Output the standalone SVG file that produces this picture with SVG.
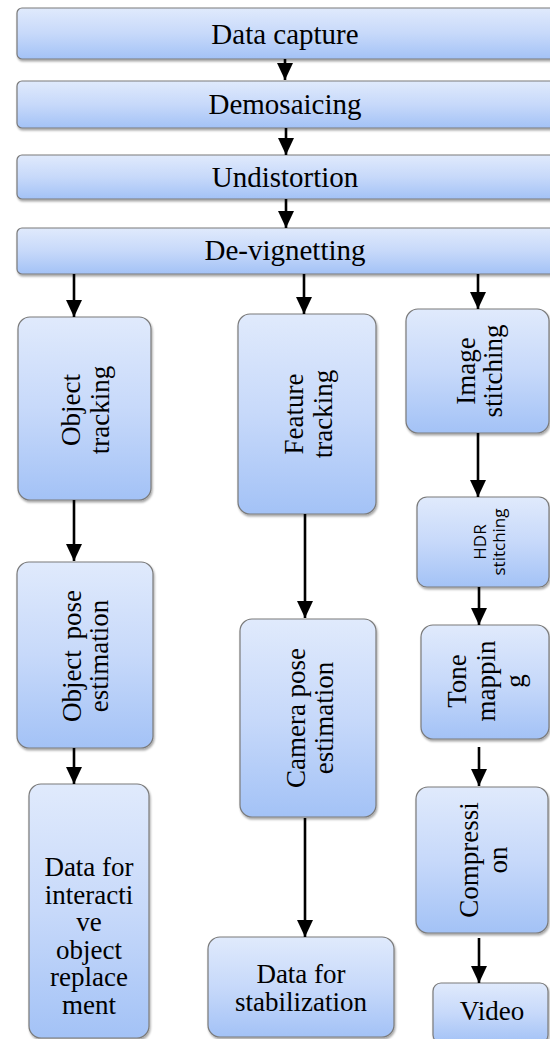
<svg xmlns="http://www.w3.org/2000/svg" width="550" height="1039" viewBox="0 0 550 1039">
<defs>
<linearGradient id="g" x1="0" y1="0" x2="0" y2="1">
<stop offset="0" stop-color="#e0eafc"/>
<stop offset="0.5" stop-color="#c7d9fa"/>
<stop offset="1" stop-color="#a3c2f6"/>
</linearGradient>
<filter id="sh" x="-10%" y="-10%" width="130%" height="130%">
<feDropShadow dx="1" dy="2" stdDeviation="1.2" flood-color="#000" flood-opacity="0.35"/>
</filter>
<marker id="ah" markerUnits="userSpaceOnUse" markerWidth="17" markerHeight="16" viewBox="0 0 17 16" refX="17" refY="8" orient="auto">
<path d="M0,0 L17,8 L0,16 Z" fill="#000"/>
</marker>
</defs>
<style>
.box{fill:url(#g);stroke:#7a7a7a;stroke-width:1.2;filter:url(#sh)}
.t,.tb{font-family:'Liberation Serif','Times New Roman',serif;fill:#000;text-anchor:middle}
.t{font-size:27px}
.tb{font-size:29px}
.ts{font-family:'Open Sans','Noto Sans',sans-serif;font-size:17px;fill:#000;text-anchor:middle}
.c line{stroke:#000;stroke-width:2.6;marker-end:url(#ah)}
</style>

<g id="data-capture"><rect class="box" x="17" y="8" width="545" height="51" rx="5"/><text class="tb" x="285" y="44">Data capture</text></g>
<g id="demosaicing"><rect class="box" x="17" y="81" width="545" height="47" rx="5"/><text class="tb" x="285" y="114">Demosaicing</text></g>
<g id="undistortion"><rect class="box" x="17" y="155" width="545" height="44" rx="5"/><text class="tb" x="285" y="187">Undistortion</text></g>
<g id="de-vignetting"><rect class="box" x="17" y="228" width="545" height="46" rx="5"/><text class="tb" x="285" y="260">De-vignetting</text></g>

<g id="object-tracking"><rect class="box" x="18" y="317" width="133" height="183" rx="12"/>
<text class="t" transform="translate(0,410) rotate(-90)"><tspan x="0" y="80">Object</tspan><tspan x="0" y="109">tracking</tspan></text></g>
<g id="feature-tracking"><rect class="box" x="238" y="314" width="138" height="200" rx="12"/>
<text class="t" transform="translate(0,414) rotate(-90)"><tspan x="0" y="303">Feature</tspan><tspan x="0" y="332">tracking</tspan></text></g>
<g id="image-stitching"><rect class="box" x="406" y="309" width="143" height="124" rx="12"/>
<text class="t" transform="translate(0,371) rotate(-90)"><tspan x="0" y="475">Image</tspan><tspan x="0" y="502">stitching</tspan></text></g>
<g id="hdr-stitching"><rect class="box" x="417" y="497" width="132" height="90" rx="10"/>
<text class="ts" transform="translate(0,542) rotate(-90)"><tspan x="0" y="486">HDR</tspan><tspan x="0" y="505">stitching</tspan></text></g>
<g id="object-pose"><rect class="box" x="17" y="562" width="136" height="186" rx="12"/>
<text class="t" transform="translate(0,656) rotate(-90)" word-spacing="4"><tspan x="0" y="81">Object pose</tspan><tspan x="0" y="108">estimation</tspan></text></g>
<g id="camera-pose"><rect class="box" x="240" y="619" width="136" height="198" rx="12"/>
<text class="t" transform="translate(0,718) rotate(-90)"><tspan x="0" y="305">Camera pose</tspan><tspan x="0" y="333">estimation</tspan></text></g>
<g id="tone-mapping"><rect class="box" x="421" y="625" width="128" height="114" rx="12"/>
<text class="t" transform="translate(0,681) rotate(-90)"><tspan x="0" y="466">Tone</tspan><tspan x="0" y="495">mappin</tspan><tspan x="0" y="524">g</tspan></text></g>
<g id="compression"><rect class="box" x="416" y="787" width="132" height="146" rx="12"/>
<text class="t" transform="translate(0,860) rotate(-90)"><tspan x="0" y="478">Compressi</tspan><tspan x="0" y="507">on</tspan></text></g>
<g id="data-interactive"><rect class="box" x="29" y="784" width="120" height="254" rx="12"/>
<text class="t" font-size="26"><tspan x="89" y="876">Data for</tspan><tspan x="89" y="903.5">interacti</tspan><tspan x="89" y="931">ve</tspan><tspan x="89" y="958.5">object</tspan><tspan x="89" y="986">replace</tspan><tspan x="89" y="1013.5">ment</tspan></text></g>
<g id="data-stabilization"><rect class="box" x="208" y="937" width="186" height="100" rx="12"/>
<text class="t" font-size="26"><tspan x="301" y="983">Data for</tspan><tspan x="301" y="1011">stabilization</tspan></text></g>
<g id="video"><rect class="box" x="433" y="983" width="115" height="60" rx="8"/>
<text class="t" font-size="26" x="492" y="1020">Video</text></g>

<g id="connectors" class="c">
<line x1="285" y1="59" x2="285" y2="80"/>
<line x1="286" y1="128" x2="286" y2="155"/>
<line x1="286" y1="199" x2="286" y2="228"/>
<line x1="74" y1="274" x2="74" y2="317"/>
<line x1="304" y1="274" x2="304" y2="314"/>
<line x1="478" y1="274" x2="478" y2="309"/>
<line x1="74" y1="500" x2="74" y2="561"/>
<line x1="74" y1="748" x2="74" y2="784"/>
<line x1="305" y1="514" x2="305" y2="618"/>
<line x1="305" y1="818" x2="305" y2="937"/>
<line x1="478" y1="433" x2="478" y2="497"/>
<line x1="479" y1="587" x2="479" y2="625"/>
<line x1="479" y1="747" x2="479" y2="786"/>
<line x1="479" y1="938" x2="479" y2="983"/>
</g>
</svg>
